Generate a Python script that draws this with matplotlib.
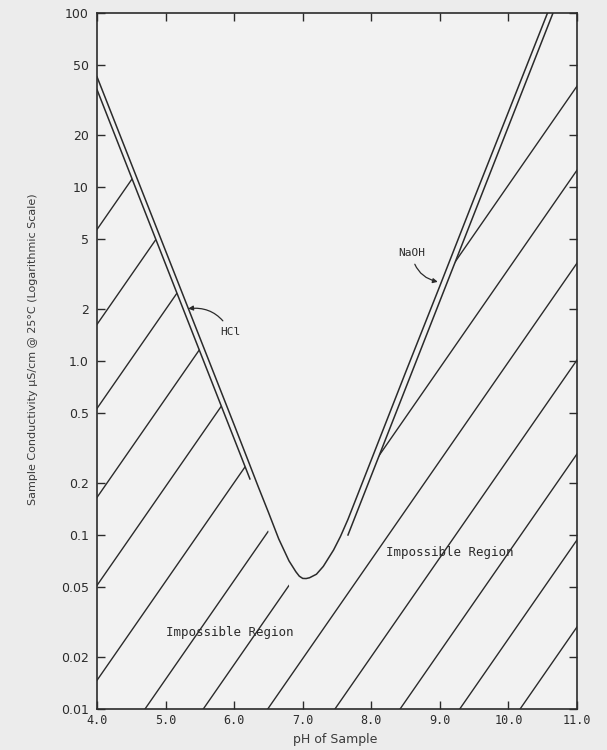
#Conductivity of pure water with HCl / NaOH, and the impossible region

import matplotlib.pyplot as plt
from matplotlib.patches import Polygon
from matplotlib.ticker import NullLocator, FixedLocator, FixedFormatter


#theoretical curve (pH, uS/cm)
curve_ph = [4.0, 5.0, 6.0, 6.2, 6.35, 6.5, 6.65, 6.8, 6.9, 6.95, 7.0, 7.05, 7.1, 7.2,
            7.3, 7.45, 7.55, 7.66, 7.8, 8.0, 8.5, 9.0, 9.5, 10.0, 10.57]
curve_k = [43, 4.3, 0.43, 0.27, 0.19, 0.135, 0.095, 0.071, 0.0615, 0.058, 0.0563, 0.0562,
           0.0568, 0.0595, 0.066, 0.082, 0.098, 0.123, 0.17, 0.27, 0.86, 2.7, 8.6, 27, 100]

#second line of the HCl band
hcl_ph = [4.0, 6.23]
hcl_k = [36.3, 0.21]

#second line of the NaOH band
naoh_ph = [7.66, 10.65]
naoh_k = [0.1, 100]

#hatching: pH where each line crosses 0.01 uS/cm, and the rise per pH unit
hatch_ph0 = [-0.85, 0.11, 0.96, 1.86, 2.75, 3.71, 4.70, 5.55, 6.49, 7.47, 8.42, 9.29, 10.17]
hatch_rise = 3.7

#where the hatching stops (upper edge of the impossible region)
edge_ph = [4.0, 6.23, 6.48, 6.81, 7.66, 10.3, 11.5]
edge_k = [36.3, 0.21, 0.11, 0.05, 0.1, 44, 60]

x_ticks = [4, 5, 6, 7, 8, 9, 10, 11]
x_labels = ['4.0', '5.0', '6.0', '7.0', '8.0', '9.0', '10.0', '11.0']
y_ticks = [0.01, 0.02, 0.05, 0.1, 0.2, 0.5, 1, 2, 5, 10, 20, 50, 100]
y_labels = ['0.01', '0.02', '0.05', '0.1', '0.2', '0.5', '1.0', '2', '5', '10', '20', '50', '100']

ink = '#2b2b2b'

fig = plt.figure(figsize=(6.07, 7.5), dpi=100, facecolor='#ececec')
ax = fig.add_axes([97/607, 41/750, 480/607, 696/750])
ax.set_facecolor('#f2f2f2')
ax.set_yscale('log')
ax.set_xlim(4, 11)
ax.set_ylim(0.01, 100)

#the curve and the two bands
ax.plot(curve_ph, curve_k, color=ink, lw=1.1)
ax.plot(hcl_ph, hcl_k, color=ink, lw=1.1)
ax.plot(naoh_ph, naoh_k, color=ink, lw=1.1)

#hatched impossible region, clipped to its edge
verts = [(4.0, 0.001)] + list(zip(edge_ph, edge_k)) + [(11.5, 0.001)]
region = Polygon(verts, closed=True, transform=ax.transData)
for p0 in hatch_ph0:
    hl = ax.axline((p0, 0.01), (p0 + 1, 0.01 * hatch_rise), color=ink, lw=1.0)
    hl.set_clip_path(region)

#labels in the plot
mono = 'DejaVu Sans Mono'
ax.text(5.94, 0.0277, 'Impossible Region', family=mono, fontsize=9, color=ink,
        ha='center', va='center')
ax.text(9.15, 0.0798, 'Impossible Region', family=mono, fontsize=9, color=ink,
        ha='center', va='center')
ax.annotate('HCl', xy=(5.33, 2.0), xytext=(5.94, 1.47), family=mono, fontsize=8,
            color=ink, ha='center', va='center',
            arrowprops=dict(arrowstyle='-|>', color=ink, lw=0.9, mutation_scale=7,
                            shrinkA=3, shrinkB=0, connectionstyle='arc3,rad=0.35'))
ax.annotate('NaOH', xy=(8.97, 2.85), xytext=(8.59, 4.2), family=mono, fontsize=8,
            color=ink, ha='center', va='center',
            arrowprops=dict(arrowstyle='-|>', color=ink, lw=0.9, mutation_scale=7,
                            shrinkA=3, shrinkB=0, connectionstyle='arc3,rad=0.35'))

#axes and ticks
ax.xaxis.set_major_locator(FixedLocator(x_ticks))
ax.xaxis.set_major_formatter(FixedFormatter(x_labels))
ax.yaxis.set_major_locator(FixedLocator(y_ticks))
ax.yaxis.set_major_formatter(FixedFormatter(y_labels))
ax.yaxis.set_minor_locator(NullLocator())
ax.tick_params(direction='in', top=True, right=True, length=6, width=1.0, colors=ink)
ax.tick_params(axis='y', labelsize=9, pad=6)
for lab in ax.get_xticklabels():
    lab.set_family(mono)
    lab.set_fontsize(8.5)
for s in ax.spines.values():
    s.set_color(ink)
    s.set_linewidth(1.2)

fig.text(33/607, 1 - 349/750, 'Sample Conductivity µS/cm @ 25°C (Logarithmic Scale)',
         rotation=90, ha='center', va='center', fontsize=8, color='#3a3a3a')
fig.text(335/607, 1 - 739/750, 'pH of Sample', ha='center', va='center', fontsize=9,
         color='#3a3a3a')

plt.savefig('out.png', dpi=100, facecolor=fig.get_facecolor())
